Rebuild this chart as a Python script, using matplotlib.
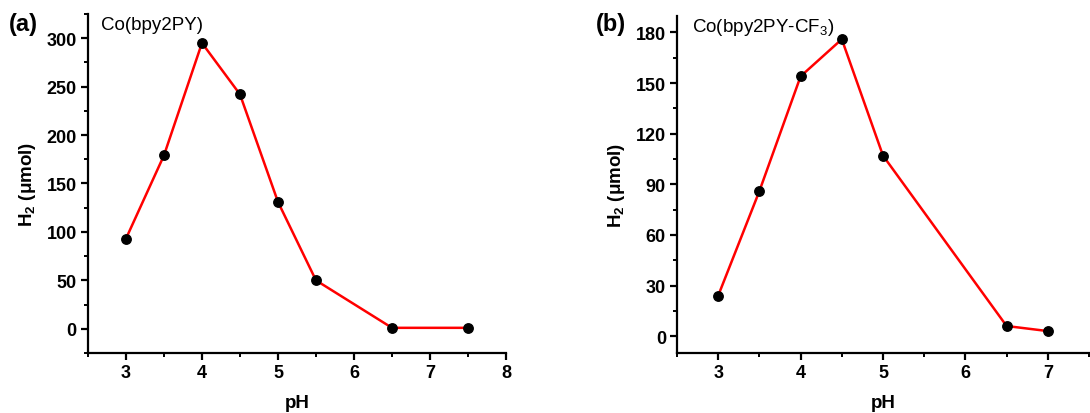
import matplotlib
matplotlib.use("Agg")
import matplotlib.pyplot as plt
from matplotlib.ticker import MultipleLocator

plt.rcParams['font.family'] = ['Liberation Sans', 'DejaVu Sans']
plt.rcParams['mathtext.fontset'] = 'custom'
plt.rcParams['mathtext.rm'] = 'Liberation Sans'
plt.rcParams['mathtext.bf'] = 'Liberation Sans:bold'

# Panel (a): Co(bpy2PY)
ph_a = [3.0, 3.5, 4.0, 4.5, 5.0, 5.5, 6.5, 7.5]
h2_a = [93, 179, 295, 242, 131, 50, 1, 1]

# Panel (b): Co(bpy2PY-CF3)
ph_b = [3.0, 3.5, 4.0, 4.5, 5.0, 6.5, 7.0]
h2_b = [24, 86, 154, 176, 107, 6, 3]

fig = plt.figure(figsize=(10.9, 4.14), dpi=100)
ax_a = fig.add_axes([0.0807, 0.1449, 0.3835, 0.8190])
ax_b = fig.add_axes([0.6211, 0.1449, 0.3780, 0.8150])


def style(ax, xlim, ylim, xmaj, ymaj, xmin, ymin):
    ax.set_xlim(*xlim)
    ax.set_ylim(*ylim)
    ax.xaxis.set_major_locator(MultipleLocator(xmaj))
    ax.xaxis.set_minor_locator(MultipleLocator(xmin))
    ax.yaxis.set_major_locator(MultipleLocator(ymaj))
    ax.yaxis.set_minor_locator(MultipleLocator(ymin))
    for s in ('top', 'right'):
        ax.spines[s].set_visible(False)
    for s in ('left', 'bottom'):
        ax.spines[s].set_linewidth(1.6)
    ax.tick_params(which='major', direction='out', length=5, width=1.6,
                   labelsize=13, pad=3)
    ax.tick_params(which='minor', direction='out', length=3, width=1.4)
    for lab in ax.get_xticklabels() + ax.get_yticklabels():
        lab.set_fontweight('bold')
    ax.set_xlabel('pH', fontsize=13.5, fontweight='bold', labelpad=9)
    ax.set_ylabel(r'H$_{\mathbf{2}}$ (μmol)', fontsize=13.5,
                  fontweight='bold', labelpad=6)


for ax, x, y in ((ax_a, ph_a, h2_a), (ax_b, ph_b, h2_b)):
    ax.plot(x, y, color='#ff0000', linewidth=1.8, zorder=2)
    ax.plot(x, y, linestyle='none', marker='o', markersize=6.8,
            color='black', zorder=3, clip_on=False)

style(ax_a, (2.5, 8.0), (-25, 325), 1, 50, 0.5, 25)
style(ax_b, (2.5, 7.5), (-10, 190), 1, 30, 0.5, 15)

ax_a.text(0.03, 0.995, 'Co(bpy2PY)', transform=ax_a.transAxes,
          fontsize=13.5, va='top', ha='left')
ax_b.text(0.036, 1.0, r'Co(bpy2PY-CF$_3$)', transform=ax_b.transAxes,
          fontsize=13.5, va='top', ha='left')

fig.text(0.008, 0.94, '(a)', fontsize=17, fontweight='bold', va='center')
fig.text(0.547, 0.94, '(b)', fontsize=17, fontweight='bold', va='center')

fig.savefig('out.png', dpi=100)
